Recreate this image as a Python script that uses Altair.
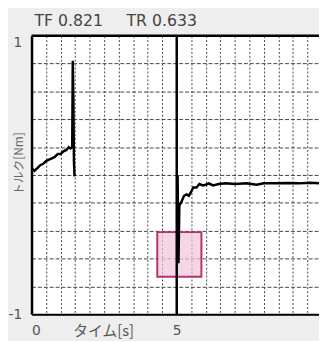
import altair as alt
import pandas as pd

# --- data ---
seg1_t = [0.0, 0.1, 0.2, 0.3, 0.4, 0.5, 0.6, 0.7, 0.8, 0.9, 1.0, 1.1, 1.2, 1.28, 1.34, 1.40, 1.42, 1.44, 1.46, 1.48]
seg1_v = [0.05, 0.03, 0.05, 0.07, 0.08, 0.10, 0.11, 0.12, 0.13, 0.15, 0.15, 0.17, 0.18, 0.20, 0.19, 0.20, 0.82, 0.55, 0.10, -0.01]
seg2_t = [5.03, 5.06, 5.09, 5.17, 5.25, 5.34, 5.42, 5.50, 5.57, 5.68, 5.78, 5.90, 6.00, 6.11, 6.25, 6.45, 6.7, 7.0, 7.4, 7.75, 8.0, 8.4, 8.8, 9.2, 9.6, 9.9]
seg2_v = [0.0, -0.633, -0.22, -0.19, -0.15, -0.14, -0.15, -0.12, -0.09, -0.09, -0.065, -0.075, -0.07, -0.06, -0.075, -0.065, -0.06, -0.065, -0.06, -0.07, -0.06, -0.06, -0.058, -0.06, -0.055, -0.06]
cursor_t = [5.0]
box = {"t0": [4.33], "t1": [5.85], "v0": [-0.41], "v1": [-0.73]}
x_grid = [i * 0.5 for i in range(0, 20)]
y_grid = [-1, -0.8, -0.6, -0.4, -0.2, 0, 0.2, 0.4, 0.6, 0.8, 1]

line_df = pd.DataFrame({
    "t": seg1_t + seg2_t,
    "v": seg1_v + seg2_v,
    "seg": ["a"] * len(seg1_t) + ["b"] * len(seg2_t),
})
box_df = pd.DataFrame(box)
cursor_df = pd.DataFrame({"t": cursor_t})
top_df = pd.DataFrame({"v": [1]})

JP = "Noto Sans CJK JP"
LAT = "DejaVu Sans"
xs = alt.Scale(domain=[0, 9.9], nice=False, zero=False)
ys = alt.Scale(domain=[-1, 1], nice=False)

xaxis = alt.Axis(
    values=x_grid, title="タイム[s]", grid=True, gridDash=[2, 2], gridColor="#444",
    gridWidth=1, ticks=False, domainColor="black", domainWidth=2, labelOverlap=False,
    labelExpr="datum.value == 0 ? '0' : datum.value == 5 ? '5' : ''",
    labelBaseline="middle", labelPadding=17, labelFontSize=14, labelColor="#555", labelFont=LAT,
    titleX=73, titleY=17, titleBaseline="middle", titleAlign="center",
    titleFontSize=15, titleFontWeight="normal", titleColor="#555", titleFont=JP,
)
yaxis = alt.Axis(
    values=y_grid, title="トルク[Nm]", grid=True, gridDash=[4, 2], gridColor="#444",
    gridWidth=1, ticks=False, domainColor="black", domainWidth=2.5, labelOverlap=False,
    labelExpr="datum.value == 1 ? '1' : datum.value == -1 ? '-1' : ''",
    labelBaseline={"condition": {"test": "datum.value == 1", "value": "top"}, "value": "middle"},
    labelPadding=10, labelFontSize=14, labelColor="#555", labelFont=LAT,
    titleX=-13, titleY=130, titleAngle=-90, titleBaseline="middle", titleAlign="center",
    titleFontSize=12, titleFontWeight="normal", titleColor="#666", titleFont=JP,
)

X = lambda f: alt.X(f, scale=xs, axis=xaxis)
Y = lambda f: alt.Y(f, scale=ys, axis=yaxis)

rect = alt.Chart(box_df).mark_rect(
    fill="#f2c4da", fillOpacity=0.7, stroke="#b3336b", strokeWidth=2
).encode(x=X("t0:Q"), x2="t1:Q", y=Y("v0:Q"), y2="v1:Q")
line = alt.Chart(line_df).mark_line(color="black", strokeWidth=2.5).encode(
    x=X("t:Q"), y=Y("v:Q"), detail="seg:N", order="t:Q"
)
cursor = alt.Chart(cursor_df).mark_rule(color="black", strokeWidth=2.5).encode(x=X("t:Q"))
top = alt.Chart(top_df).mark_rule(color="black", strokeWidth=2.5).encode(y=Y("v:Q"))

chart = alt.layer(rect, line, cursor, top).properties(
    width=293, height=284,
    autosize=alt.AutoSizeParams(type="none"),
    padding={"left": 24, "top": 25, "right": 0, "bottom": 24},
    background="#eeeeee",
    title=alt.TitleParams(
        "TF 0.821\u2003\u2002TR 0.633", anchor="start", frame="group", dx=3,
        offset=6, fontSize=16, fontWeight="normal", color="#444", font=LAT,
    ),
).configure_view(fill="white", stroke=None)

chart.save("out.html", embed_options={"renderer": "svg", "actions": False})
